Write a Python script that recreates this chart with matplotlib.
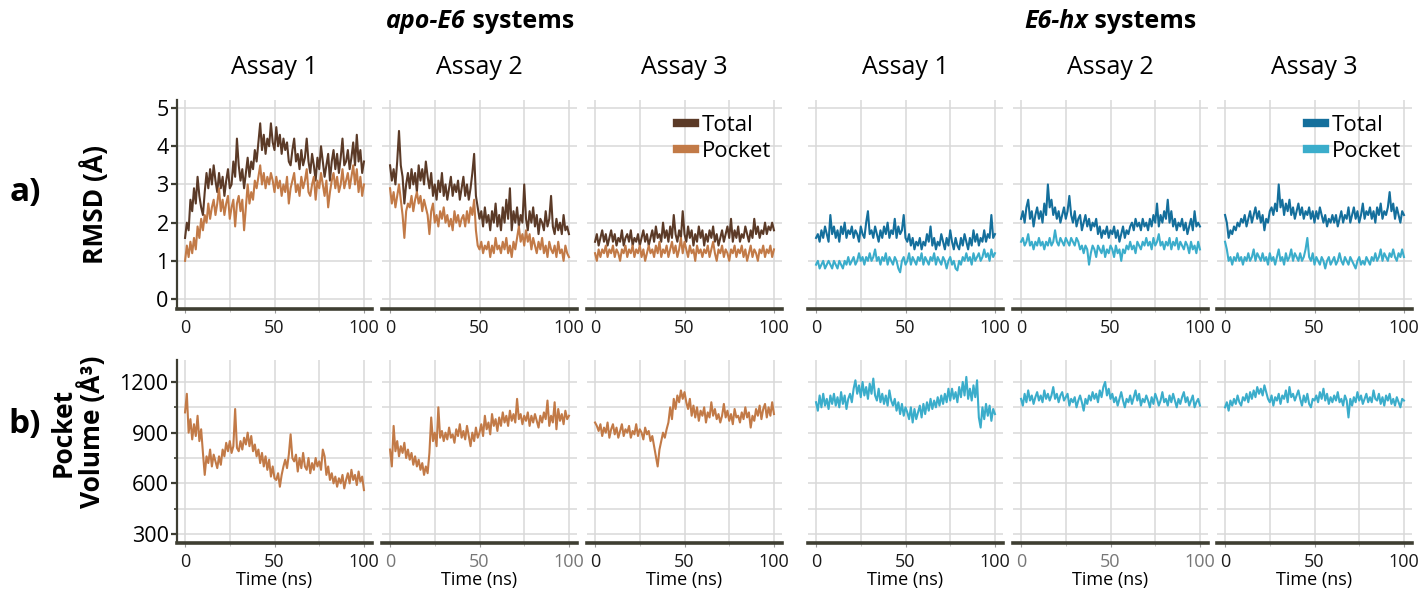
import numpy as np
import matplotlib
matplotlib.use('Agg')
import matplotlib.pyplot as plt
from matplotlib.lines import Line2D
from matplotlib.ticker import MultipleLocator

plt.rcParams['font.family'] = ['Open Sans', 'DejaVu Sans']

# time axis, 1 ns per frame
time_ns = np.arange(0, 101)

assay_titles = ['Assay 1', 'Assay 2', 'Assay 3']

# ---- RMSD (A), apo-E6 ----
apo_total_1 = [1.6, 2.0, 1.8, 2.6, 2.3, 2.9, 2.5, 3.2, 2.7, 2.4, 2.2,
               2.8, 3.3, 2.9, 3.4, 3.0, 3.5, 3.1, 2.8, 3.3, 2.9,
               3.2, 2.7, 3.1, 3.4, 2.9, 3.0, 3.6, 3.2, 4.2, 3.5,
               3.1, 3.4, 2.9, 3.3, 3.7, 3.2, 3.6, 3.4, 3.9, 3.6,
               4.1, 4.6, 3.9, 4.3, 3.8, 4.2, 4.0, 4.6, 4.1, 3.9,
               4.5, 4.0, 4.3, 3.8, 4.2, 3.9, 4.1, 3.6, 3.5, 3.9,
               4.2, 3.6, 3.8, 3.4, 3.9, 3.5, 3.7, 4.2, 3.6, 3.3,
               3.8, 3.5, 3.1, 3.7, 3.4, 4.0, 3.6, 3.2, 3.5, 3.8,
               3.1, 3.6, 3.9, 3.4, 3.8, 3.3, 3.7, 4.2, 3.5, 3.6,
               3.9, 3.4, 3.7, 4.1, 3.5, 4.3, 3.6, 3.9, 3.3, 3.6]
apo_pocket_1 = [1.0, 1.4, 1.1, 1.5, 1.2, 1.6, 1.3, 1.9, 1.6, 2.1, 1.8,
                2.2, 2.0, 2.5, 2.1, 2.4, 2.6, 2.2, 2.5, 2.9, 2.3,
                2.6, 2.2, 2.5, 2.7, 2.1, 2.4, 2.6, 1.9, 2.5, 2.7,
                2.3, 2.6, 1.8, 2.4, 3.0, 2.5, 2.8, 2.6, 3.1, 2.9,
                3.2, 3.5, 3.0, 3.3, 2.9, 3.2, 3.0, 3.3, 3.1, 2.8,
                3.2, 2.9, 3.1, 2.7, 3.0, 2.8, 3.2, 2.5, 2.9, 3.1,
                3.3, 2.8, 3.0, 2.7, 3.2, 2.9, 3.1, 3.4, 2.8, 2.7,
                3.0, 3.2, 2.6, 3.1, 2.9, 3.3, 3.0, 2.7, 3.1, 2.4,
                2.8, 3.1, 3.3, 2.9, 3.2, 2.8, 3.0, 3.4, 2.9, 3.1,
                3.3, 2.9, 3.2, 3.5, 3.0, 3.4, 2.8, 3.2, 2.7, 3.0]
apo_total_2 = [3.5, 3.1, 3.4, 3.0, 3.6, 4.4, 3.5, 3.2, 2.5, 3.0, 3.3,
               2.9, 3.4, 3.0, 3.3, 2.8, 3.5, 3.1, 3.4, 3.0, 3.6,
               3.2, 2.9, 3.3, 2.7, 3.0, 2.6, 3.1, 2.8, 3.3, 2.7,
               3.0, 2.6, 2.9, 3.2, 2.7, 3.0, 2.8, 3.1, 2.6, 2.9,
               3.2, 2.7, 3.0, 2.6, 2.9, 3.3, 3.8, 2.7, 2.4, 2.1,
               2.3, 1.9, 2.4, 2.0, 2.2, 1.8, 2.3, 2.0, 2.5, 1.9,
               2.2, 1.8, 2.4, 2.0, 2.6, 2.1, 2.9, 1.8, 2.3, 2.0,
               2.4, 1.9, 2.2, 2.0, 3.0, 2.1, 1.8, 2.3, 2.0, 2.4,
               1.9, 2.2, 1.7, 2.1, 2.0, 1.8, 2.3, 1.9, 2.1, 2.7,
               1.9, 1.7, 2.1, 1.8, 2.0, 1.7, 2.2, 1.8, 1.9, 1.7]
apo_pocket_2 = [2.9, 2.5, 2.8, 2.4, 2.7, 3.0, 2.6, 2.2, 1.6, 2.3, 2.5,
                2.4, 2.7, 2.3, 2.6, 2.8, 2.5, 2.7, 2.3, 2.6, 2.4,
                2.2, 1.7, 2.3, 2.5, 2.0, 2.2, 1.9, 2.3, 2.1, 2.4,
                2.0, 2.2, 1.9, 2.1, 1.8, 2.3, 2.0, 2.2, 1.9, 2.1,
                2.2, 1.9, 2.3, 2.0, 2.4, 2.2, 2.6, 1.8, 1.4, 1.3,
                1.5, 1.2, 1.4, 1.3, 1.5, 1.1, 1.4, 1.2, 1.6, 1.3,
                1.4, 1.2, 1.5, 1.3, 1.6, 1.2, 1.4, 1.1, 1.5, 1.3,
                1.6, 1.9, 1.5, 1.7, 1.4, 1.8, 1.5, 1.7, 1.3, 1.6,
                1.4, 1.2, 1.5, 1.3, 1.6, 1.2, 1.4, 1.1, 1.5, 1.3,
                1.2, 1.4, 1.1, 1.5, 1.2, 1.3, 1.0, 1.4, 1.2, 1.1]
apo_total_3 = [1.5, 1.7, 1.4, 1.6, 1.8, 1.5, 1.7, 1.4, 1.6, 1.8, 1.5,
               1.7, 1.4, 1.6, 1.5, 1.8, 1.4, 1.6, 1.7, 1.5, 1.8,
               1.4, 1.6, 1.5, 1.7, 1.4, 1.6, 1.8, 1.5, 1.7, 1.4,
               1.6, 1.8, 1.5, 1.9, 1.6, 1.7, 1.5, 2.0, 1.6, 1.8,
               1.5, 1.9, 1.6, 2.2, 1.7, 1.5, 1.8, 1.6, 2.3, 1.7,
               1.5, 1.9, 1.6, 1.8, 1.4, 1.7, 1.5, 1.9, 1.6, 1.8,
               1.4, 1.7, 1.5, 1.8, 1.6, 1.9, 1.5, 1.7, 1.4, 1.6,
               1.8, 1.5, 1.7, 1.9, 1.6, 2.1, 1.5, 1.8, 1.6, 1.9,
               1.5, 1.7, 1.6, 1.9, 1.7, 1.5, 1.8, 1.6, 2.1, 1.7,
               1.9, 1.6, 1.8, 1.7, 2.0, 1.7, 1.9, 1.8, 2.0, 1.8]
apo_pocket_3 = [1.2, 1.0, 1.3, 1.1, 1.3, 1.2, 1.4, 1.1, 1.3, 1.2, 1.4,
                1.1, 1.3, 1.2, 1.0, 1.3, 1.2, 1.4, 1.1, 1.3, 1.2,
                1.4, 1.1, 1.3, 1.2, 1.4, 1.1, 1.3, 1.0, 1.2, 1.4,
                1.2, 1.3, 1.1, 1.4, 1.2, 1.5, 1.1, 1.3, 1.2, 1.4,
                1.1, 1.3, 1.5, 1.2, 1.4, 1.1, 1.3, 1.6, 1.2, 1.5,
                1.3, 1.1, 1.4, 1.2, 1.3, 1.0, 1.4, 1.2, 1.3, 1.1,
                1.3, 1.2, 1.4, 1.1, 1.3, 1.5, 1.2, 1.0, 1.3, 1.2,
                1.4, 1.1, 1.3, 1.2, 1.0, 1.3, 1.2, 1.4, 1.1, 1.3,
                1.2, 1.4, 1.1, 1.3, 1.0, 1.2, 1.4, 1.1, 1.3, 1.2,
                1.0, 1.3, 1.2, 1.4, 1.1, 1.3, 1.2, 1.4, 1.1, 1.3]

# ---- RMSD (A), E6-hx ----
hx_total_1 = [1.6, 1.7, 1.5, 1.8, 1.6, 1.9, 1.7, 1.5, 2.2, 1.7, 1.9,
              1.6, 1.8, 1.5, 1.9, 1.7, 2.0, 1.6, 1.8, 1.7, 1.9,
              1.6, 1.8, 1.7, 1.5, 1.9, 1.7, 1.6, 2.0, 2.3, 1.7,
              1.8, 1.6, 1.9, 1.7, 1.5, 1.8, 1.6, 1.9, 1.7, 2.0,
              1.6, 1.8, 1.7, 2.1, 1.6, 1.9, 1.7, 1.8, 2.2, 1.6,
              1.5, 1.7, 1.4, 1.6, 1.3, 1.5, 1.4, 1.6, 1.3, 1.5,
              1.4, 1.7, 1.5, 1.9, 1.4, 1.6, 1.3, 1.5, 1.4, 1.7,
              1.5, 1.3, 1.6, 1.4, 1.8, 1.5, 1.3, 1.6, 1.4, 1.3,
              1.6, 1.4, 1.7, 1.5, 1.3, 1.6, 1.4, 1.8, 1.5, 1.7,
              1.4, 1.6, 1.5, 1.8, 1.5, 1.7, 1.6, 2.2, 1.6, 1.7]
hx_pocket_1 = [0.9, 1.0, 0.8, 0.9, 1.0, 0.8, 0.9, 1.0, 0.9, 0.8, 1.0,
               0.9, 0.8, 1.0, 0.9, 0.8, 1.0, 0.9, 1.1, 0.9, 1.0,
               1.1, 0.9, 1.0, 1.2, 1.0, 1.1, 0.9, 1.1, 1.0, 1.2,
               1.0, 1.1, 1.3, 1.0, 1.1, 0.9, 1.1, 1.0, 1.2, 0.9,
               1.1, 1.0, 0.9, 1.1, 1.0, 0.8, 0.7, 1.0, 1.1, 0.9,
               1.0, 1.2, 0.9, 1.1, 1.0, 0.9, 1.1, 1.0, 1.2, 0.9,
               1.1, 1.0, 0.9, 1.1, 1.0, 1.2, 0.9, 1.1, 1.0, 0.9,
               1.1, 1.0, 0.8, 1.0, 1.1, 0.9, 1.0, 0.8, 0.75, 1.0,
               0.9, 1.1, 1.0, 1.2, 1.0, 1.1, 0.9, 1.2, 1.0, 1.1,
               1.2, 1.0, 1.1, 1.3, 1.1, 1.2, 1.0, 1.3, 1.1, 1.2]
hx_total_2 = [2.1, 2.3, 2.0, 2.4, 2.6, 2.1, 2.3, 1.9, 2.2, 2.4, 2.1,
              2.3, 2.0, 2.5, 2.2, 3.0, 2.4, 2.6, 2.2, 2.4, 2.1,
              2.3, 2.0, 2.2, 2.4, 2.1, 2.3, 2.7, 2.2, 2.0, 2.3,
              1.9, 2.1, 2.2, 1.8, 2.0, 2.2, 1.9, 2.1, 1.8, 2.0,
              1.9, 2.1, 1.7, 1.9, 1.6, 1.8, 1.7, 1.9, 1.6, 1.8,
              1.7, 1.9, 1.6, 1.8, 1.5, 1.7, 1.9, 1.6, 1.8, 1.7,
              1.9, 2.0, 1.8, 2.1, 1.9, 2.0, 1.8, 2.1, 1.9, 2.0,
              1.8, 2.1, 1.9, 2.2, 2.0, 2.5, 1.9, 2.2, 2.0, 2.3,
              2.1, 2.6, 2.0, 2.3, 1.9, 2.1, 1.8, 2.0, 1.9, 2.1,
              1.8, 2.0, 1.7, 1.9, 2.1, 1.8, 2.3, 1.9, 2.0, 1.9]
hx_pocket_2 = [1.5, 1.6, 1.4, 1.5, 1.7, 1.4, 1.5, 1.3, 1.5, 1.4, 1.6,
               1.4, 1.5, 1.3, 1.5, 1.4, 1.6, 1.4, 1.5, 1.8, 1.5,
               1.4, 1.6, 1.5, 1.4, 1.6, 1.5, 1.4, 1.6, 1.5, 1.4,
               1.6, 1.5, 1.3, 1.4, 1.2, 1.4, 1.3, 0.9, 1.2, 1.4,
               1.3, 1.1, 1.4, 1.3, 1.2, 1.4, 1.1, 1.3, 1.2, 1.4,
               1.3, 1.1, 1.4, 1.2, 1.3, 1.0, 1.3, 1.2, 1.4, 1.3,
               1.5, 1.3, 1.4, 1.2, 1.5, 1.4, 1.3, 1.5, 1.4, 1.6,
               1.4, 1.5, 1.3, 1.6, 1.4, 1.5, 1.7, 1.4, 1.5, 1.3,
               1.5, 1.4, 1.6, 1.3, 1.5, 1.4, 1.6, 1.3, 1.5, 1.4,
               1.3, 1.5, 1.4, 1.2, 1.5, 1.3, 1.4, 1.2, 1.5, 1.3]
hx_total_3 = [2.2, 2.0, 1.6, 1.8, 1.7, 1.9, 1.8, 2.0, 1.9, 2.1, 2.0,
              2.2, 1.9, 2.1, 2.3, 2.0, 2.2, 2.4, 2.1, 2.3, 2.0,
              2.2, 1.8, 2.1, 2.0, 2.3, 2.4, 2.2, 2.5, 2.3, 3.0,
              2.4, 2.6, 2.2, 2.5, 2.3, 2.6, 2.2, 2.4, 2.1, 2.3,
              2.5, 2.2, 2.4, 2.1, 2.3, 2.2, 2.4, 2.1, 2.3, 2.0,
              2.3, 2.1, 2.4, 2.2, 2.0, 2.2, 1.9, 2.1, 2.0, 2.2,
              2.0, 2.2, 1.9, 2.1, 2.3, 2.0, 2.2, 2.1, 2.4, 2.0,
              2.2, 2.4, 2.1, 2.3, 2.0, 2.2, 2.5, 2.1, 2.3, 2.2,
              2.4, 2.1, 2.3, 2.0, 2.4, 2.2, 2.5, 2.1, 2.3, 2.2,
              2.4, 2.8, 2.3, 2.5, 2.1, 2.4, 2.2, 2.0, 2.3, 2.2]
hx_pocket_3 = [1.5, 1.3, 1.0, 1.1, 0.9, 1.1, 1.0, 1.2, 1.0, 1.1, 0.9,
               1.1, 1.0, 1.2, 1.0, 1.1, 1.3, 1.0, 1.2, 1.1, 1.0,
               1.2, 1.0, 1.1, 0.9, 1.2, 1.0, 1.1, 0.9, 1.1, 1.3,
               1.0, 1.1, 0.9, 1.2, 1.0, 1.1, 1.3, 1.0, 1.2, 1.1,
               1.0, 1.2, 1.0, 1.1, 1.3, 1.6, 1.1, 1.0, 1.2, 0.9,
               1.1, 1.0, 0.9, 1.1, 1.0, 0.8, 1.0, 1.1, 0.9, 1.0,
               1.1, 0.9, 1.0, 1.2, 1.0, 0.9, 1.1, 1.0, 0.9, 1.1,
               1.0, 0.9, 0.8, 1.0, 1.1, 0.9, 1.0, 0.9, 1.1, 1.0,
               0.9, 1.1, 1.0, 1.2, 1.0, 1.1, 1.3, 1.0, 1.2, 1.1,
               1.0, 1.2, 1.1, 1.3, 1.1, 1.0, 1.2, 1.1, 1.3, 1.1]

# ---- Pocket volume (A^3) ----
apo_volume_1 = [1020, 1130, 900, 980, 860, 950, 880, 1000, 850, 920, 780,
                650, 760, 720, 800, 700, 770, 730, 690, 760, 710,
                800, 760, 840, 790, 850, 780, 820, 1040, 810, 790,
                850, 800, 870, 830, 900, 820, 880, 790, 830, 760,
                800, 720, 780, 700, 760, 680, 740, 640, 700, 630,
                620, 660, 580, 650, 700, 740, 690, 770, 890, 750,
                730, 770, 670, 750, 690, 780, 700, 680, 750, 660,
                720, 680, 750, 700, 730, 680, 800, 760, 650, 700,
                620, 660, 600, 640, 580, 630, 600, 650, 570, 620,
                660, 600, 680, 620, 650, 590, 670, 610, 640, 560]
apo_volume_2 = [800, 700, 940, 790, 850, 760, 820, 780, 840, 750, 800,
                740, 780, 710, 760, 700, 740, 680, 720, 650, 700,
                660, 780, 990, 850, 900, 820, 1050, 870, 910, 850,
                900, 860, 930, 870, 890, 840, 920, 880, 950, 870,
                910, 860, 940, 880, 820, 900, 850, 930, 870, 900,
                950, 880, 1000, 920, 960, 890, 1010, 940, 980, 910,
                990, 940, 1020, 960, 1000, 940, 1030, 970, 1010, 960,
                1100, 980, 1010, 950, 1000, 970, 1020, 940, 1000, 960,
                1010, 970, 930, 1000, 960, 1020, 980, 1090, 940, 1000,
                960, 1080, 920, 1040, 970, 1010, 950, 1030, 980, 1000]
apo_volume_3 = [960, 940, 910, 950, 880, 930, 900, 960, 870, 920, 950,
                890, 930, 870, 910, 950, 880, 920, 900, 940, 870,
                910, 890, 950, 880, 920, 900, 860, 930, 890, 910,
                850, 880, 820, 760, 700, 800, 850, 900, 870, 920,
                960, 1050, 980, 1100, 1040, 1120, 1080, 1150, 1100, 1140,
                1080, 1040, 1100, 1000, 1060, 990, 1050, 970, 1030, 1000,
                1050, 960, 1020, 990, 1080, 1000, 1040, 980, 1010, 960,
                1000, 1070, 990, 1030, 970, 1010, 950, 1040, 990, 1000,
                960, 1020, 980, 1050, 990, 1020, 930, 1000, 970, 1040,
                1000, 1060, 980, 1040, 1070, 990, 1050, 1000, 1080, 1010]
hx_volume_1 = [1080, 1030, 1120, 1050, 1130, 1060, 1100, 1040, 1120, 1070, 1130,
               1060, 1110, 1050, 1140, 1070, 1120, 1040, 1100, 1130, 1080,
               1160, 1210, 1130, 1180, 1110, 1200, 1120, 1170, 1100, 1190,
               1130, 1220, 1120, 1090, 1160, 1080, 1130, 1070, 1120, 1060,
               1150, 1090, 1060, 1100, 1030, 1080, 1010, 1070, 1000, 1050,
               1020, 980, 1050, 960, 1040, 980, 1020, 1060, 990, 1070,
               1010, 1080, 1030, 1100, 1040, 1090, 1050, 1110, 1060, 1120,
               1070, 1130, 1080, 1160, 1090, 1160, 1100, 1140, 1080, 1170,
               1110, 1200, 1120, 1230, 1100, 1160, 1090, 1180, 1110, 1210,
               990, 930, 1050, 980, 1070, 1000, 1060, 970, 1040, 1010]
hx_volume_2 = [1100, 1060, 1130, 1080, 1150, 1090, 1120, 1070, 1110, 1140, 1090,
               1120, 1080, 1150, 1100, 1130, 1090, 1120, 1170, 1100, 1130,
               1080, 1120, 1140, 1090, 1110, 1130, 1060, 1100, 1080, 1110,
               1050, 1090, 1120, 1080, 1030, 1100, 1070, 1120, 1090, 1140,
               1100, 1130, 1080, 1150, 1110, 1170, 1200, 1120, 1160, 1100,
               1130, 1080, 1110, 1060, 1100, 1140, 1090, 1050, 1100, 1080,
               1120, 1070, 1110, 1150, 1090, 1130, 1060, 1100, 1080, 1120,
               1090, 1050, 1110, 1070, 1130, 1100, 1060, 1090, 1140, 1080,
               1100, 1060, 1120, 1080, 1130, 1090, 1050, 1100, 1070, 1110,
               1140, 1080, 1110, 1060, 1090, 1120, 1050, 1080, 1100, 1060]
hx_volume_3 = [1050, 1080, 1030, 1090, 1060, 1100, 1070, 1120, 1080, 1060, 1110,
               1090, 1130, 1080, 1140, 1100, 1150, 1110, 1170, 1130, 1160,
               1120, 1180, 1140, 1100, 1080, 1120, 1060, 1110, 1090, 1130,
               1070, 1120, 1100, 1150, 1080, 1170, 1110, 1130, 1090, 1120,
               1150, 1100, 1060, 1120, 1080, 1130, 1070, 1050, 1100, 1090,
               1120, 1080, 1140, 1100, 1160, 1090, 1130, 1070, 1110, 1080,
               1120, 1090, 1140, 1080, 1100, 1060, 1120, 1090, 990, 1100,
               1060, 1110, 1080, 1140, 1090, 1120, 1070, 1100, 1130, 1080,
               1110, 1080, 1150, 1100, 1090, 1130, 1070, 1110, 1060, 1120,
               1090, 1130, 1070, 1100, 1060, 1110, 1080, 1050, 1100, 1090]

rmsd_total = [apo_total_1, apo_total_2, apo_total_3, hx_total_1, hx_total_2, hx_total_3]
rmsd_pocket = [apo_pocket_1, apo_pocket_2, apo_pocket_3, hx_pocket_1, hx_pocket_2, hx_pocket_3]
volumes = [apo_volume_1, apo_volume_2, apo_volume_3, hx_volume_1, hx_volume_2, hx_volume_3]

apo_colors = ('#5b3a27', '#c27a47')
hx_colors = ('#146f9c', '#3badcb')

W, H = 1424, 590
fig = plt.figure(figsize=(W / 100, H / 100), dpi=100)

lefts = [177, 382, 587, 808, 1013, 1217]
pw = 195
rows = [(100, 309), (360, 543)]
grid_c = '#d9d9d9'
axis_c = '#3e3e32'
lw = 1.5


def add_panel(left, top, bottom):
    return fig.add_axes([left / W, 1 - bottom / H, pw / W, (bottom - top) / H])


for r, (top, bottom) in enumerate(rows):
    for c, left in enumerate(lefts):
        ax = add_panel(left, top, bottom)
        dark, light = apo_colors if c < 3 else hx_colors
        if r == 0:
            ax.plot(time_ns, rmsd_total[c], color=dark, lw=lw)
            ax.plot(time_ns, rmsd_pocket[c], color=light, lw=lw)
            ax.set_ylim(-0.26, 5.21)
            ax.set_yticks(range(0, 6))
        else:
            ax.plot(time_ns, volumes[c], color=light, lw=lw)
            ax.set_ylim(247, 1330)
            ax.set_yticks([300, 600, 900, 1200])
            ax.yaxis.set_minor_locator(MultipleLocator(150))
            ax.set_xlabel('Time (ns)', fontsize=13, labelpad=0)

        ax.set_xlim(-4.5, 104.5)
        ax.set_xticks([0, 50, 100])
        ax.xaxis.set_minor_locator(MultipleLocator(25))
        ax.grid(True, which='both', color=grid_c, lw=1.1)
        ax.set_axisbelow(True)

        for s in ['top', 'right']:
            ax.spines[s].set_visible(False)
        ax.spines['bottom'].set_color(axis_c)
        ax.spines['bottom'].set_linewidth(2.6)
        lab_c = '#777777' if (r == 1 and c in (1, 4)) else '#1a1a1a'
        ax.tick_params(axis='x', which='major', length=3, color='#999999',
                       labelsize=13, labelcolor=lab_c, pad=4)
        ax.tick_params(axis='x', which='minor', length=2, color='#bbbbbb')
        if c == 0:
            ax.spines['left'].set_color(axis_c)
            ax.spines['left'].set_linewidth(1.6)
            ax.tick_params(axis='y', which='major', length=4, width=1.6, color=axis_c,
                           labelsize=15.5, pad=2)
            ax.tick_params(axis='y', which='minor', length=2.5, width=1.2, color=axis_c)
        else:
            ax.spines['left'].set_visible(False)
            ax.tick_params(axis='y', which='both', left=False, labelleft=False)

        if r == 0 and c in (2, 5):
            handles = [Line2D([], [], color=dark, lw=6), Line2D([], [], color=light, lw=6)]
            ax.legend(handles, ['Total', 'Pocket'], loc='upper right', frameon=False,
                      fontsize=16, handlelength=0.8, handletextpad=0.3,
                      labelspacing=0.2, borderaxespad=0.0,
                      bbox_to_anchor=(0.99, 0.97))

        if r == 0:
            fig.text((left + pw / 2) / W, 1 - 67 / H, assay_titles[c % 3],
                     fontsize=18, ha='center', va='center')


# group titles, italic bold system name followed by " systems"
def group_title(xc, yc, name, rest):
    t1 = fig.text(0, yc, name, fontsize=18, fontweight='bold', fontstyle='italic',
                  ha='left', va='center')
    t2 = fig.text(0, yc, rest, fontsize=18, fontweight='bold', ha='left', va='center')
    rend = fig.canvas.get_renderer()
    w1 = t1.get_window_extent(rend).width / W
    w2 = t2.get_window_extent(rend).width / W
    x0 = xc - (w1 + w2) / 2
    t1.set_x(x0)
    t2.set_x(x0 + w1)


group_title(480 / W, 1 - 21 / H, 'apo-E6', '\u00a0systems')
group_title(1110 / W, 1 - 21 / H, 'E6-hx', '\u00a0systems')

fig.text(25 / W, 1 - 192 / H, 'a)', fontsize=24, fontweight='bold', ha='center', va='center')
fig.text(25 / W, 1 - 425 / H, 'b)', fontsize=24, fontweight='bold', ha='center', va='center')
fig.text(95 / W, 1 - 205 / H, 'RMSD (Å)', fontsize=19, fontweight='bold',
         rotation=90, ha='center', va='center')
fig.text(78 / W, 1 - 432 / H, 'Pocket\nVolume (Å³)', fontsize=19, fontweight='bold',
         rotation=90, ha='center', va='center', multialignment='center', linespacing=1.0)

fig.savefig('out.png', dpi=100)
